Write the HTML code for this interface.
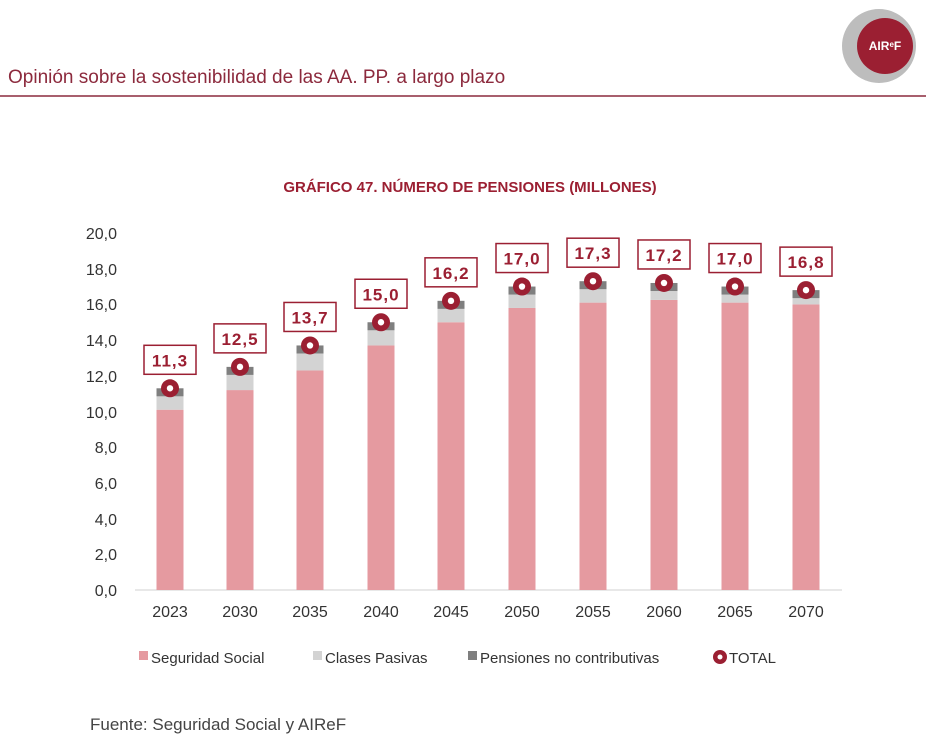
<!DOCTYPE html>
<html><head><meta charset="utf-8"><style>
body{margin:0;background:#fff;width:948px;height:749px;overflow:hidden;font-family:"Liberation Sans",sans-serif}
</style></head><body>
<svg width="948" height="749" xmlns="http://www.w3.org/2000/svg" font-family="Liberation Sans, sans-serif">
<circle cx="879" cy="46" r="37" fill="#bdbdbd"/>
<circle cx="885" cy="46" r="28" fill="#9b1f32"/>
<text x="885" y="50" fill="#fff" font-size="12" font-weight="bold" text-anchor="middle">AIR<tspan font-size="8" dy="-3">e</tspan><tspan dy="3">F</tspan></text>
<text x="8" y="83" fill="#8c2a3d" font-size="19">Opinión sobre la sostenibilidad de las AA. PP. a largo plazo</text>
<line x1="0" y1="96" x2="926" y2="96" stroke="#8c2a3d" stroke-width="1.5"/>
<text x="470" y="192" fill="#9b1f32" font-size="15" font-weight="bold" text-anchor="middle">GRÁFICO 47. NÚMERO DE PENSIONES (MILLONES)</text>
<g font-size="16" fill="#333" text-anchor="end">
<text x="117" y="596">0,0</text><text x="117" y="560">2,0</text><text x="117" y="525">4,0</text><text x="117" y="489">6,0</text><text x="117" y="453">8,0</text><text x="117" y="418">10,0</text><text x="117" y="382">12,0</text><text x="117" y="346">14,0</text><text x="117" y="310">16,0</text><text x="117" y="275">18,0</text><text x="117" y="239">20,0</text>
</g>
<line x1="135" y1="590" x2="842" y2="590" stroke="#d0d0d0"/>
<g id="bars"></g>
<g font-size="15" fill="#333">
<rect x="139" y="651" width="9" height="9" fill="#e59aa0"/><text x="151" y="663">Seguridad Social</text>
<rect x="313" y="651" width="9" height="9" fill="#d3d3d3"/><text x="325" y="663">Clases Pasivas</text>
<rect x="468" y="651" width="9" height="9" fill="#7f7f7f"/><text x="480" y="663">Pensiones no contributivas</text>
<circle cx="720" cy="657" r="7" fill="#9b1f32"/><circle cx="720" cy="657" r="2.5" fill="#fff"/><text x="729" y="663">TOTAL</text>
</g>
<text x="90" y="730" fill="#444" font-size="17">Fuente: Seguridad Social y AIReF</text>
</svg>
<script>
var d=[["2023",170,10.1,11.3,"11,3"],["2030",240,11.2,12.5,"12,5"],["2035",310,12.3,13.7,"13,7"],["2040",381,13.7,15.0,"15,0"],["2045",451,15.0,16.2,"16,2"],["2050",522,15.8,17.0,"17,0"],["2055",593,16.1,17.3,"17,3"],["2060",664,16.25,17.2,"17,2"],["2065",735,16.1,17.0,"17,0"],["2070",806,16.0,16.8,"16,8"]];
var s="",k=17.85,b=590;
d.forEach(function(r){var x=r[1]-13.5,ss=b-r[2]*k,cp=b-(r[3]-0.45)*k,t=b-r[3]*k;
s+='<rect x="'+x+'" y="'+ss+'" width="27" height="'+(b-ss)+'" fill="#e59aa0"/>';
s+='<rect x="'+x+'" y="'+cp+'" width="27" height="'+(ss-cp)+'" fill="#d3d3d3"/>';
s+='<rect x="'+x+'" y="'+t+'" width="27" height="'+(cp-t)+'" fill="#7f7f7f"/>';
s+='<circle cx="'+r[1]+'" cy="'+t+'" r="9" fill="#9b1f32"/><circle cx="'+r[1]+'" cy="'+t+'" r="3.2" fill="#fff"/>';
s+='<rect x="'+(r[1]-26)+'" y="'+(t-43)+'" width="52" height="29" fill="#fff" stroke="#9b1f32" stroke-width="1.5"/>';
s+='<text x="'+r[1]+'" y="'+(t-22)+'" font-size="17" font-weight="bold" fill="#9b1f32" text-anchor="middle" letter-spacing="1">'+r[4]+'</text>';
s+='<text x="'+r[1]+'" y="617" font-size="16" fill="#333" text-anchor="middle">'+r[0]+'</text>';});
document.getElementById("bars").innerHTML=s;
</script>
</body></html>
